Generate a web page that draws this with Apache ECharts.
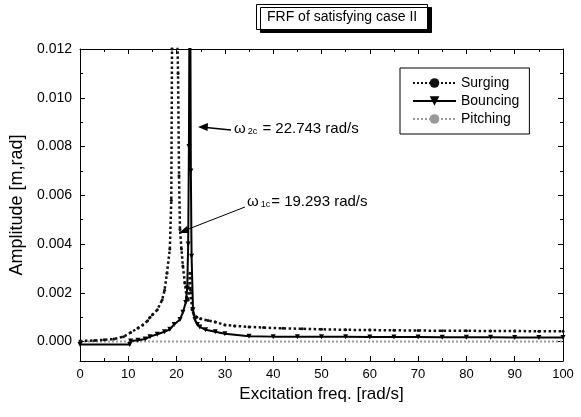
<!DOCTYPE html>
<html><head><meta charset="utf-8">
<script src="https://cdn.jsdelivr.net/npm/echarts@6/dist/echarts.min.js"></script>
<style>html,body{margin:0;padding:0;background:#fff}#c{width:581px;height:417px}</style>
</head><body><div id="c"></div>
<script>
// ---- data ----
const surgingFreq = [0, 3, 5, 7, 9, 10.5, 12, 13, 14, 14.5, 15, 16, 17, 17.5, 18, 18.6, 18.9, 19.05, 19.2, 19.3, 19.5, 19.8, 20.1, 20.3, 20.5, 20.7, 21.0, 21.3, 21.7, 22.1, 22.4, 22.6, 22.75, 22.9, 23.2, 23.6, 24.2, 25, 26.5, 28, 30, 32, 35, 38, 42, 46, 50, 55, 60, 65, 70, 75, 80, 85, 90, 95, 100];
const surgingAmp  = [0.00002, 0.00004, 0.00007, 0.0001, 0.0002, 0.00037, 0.00055, 0.00068, 0.00085, 0.001, 0.0011, 0.0013, 0.0017, 0.0021, 0.0028, 0.0038, 0.0058, 0.012, 0.016, 0.018, 0.017, 0.015, 0.013, 0.011, 0.0068, 0.0046, 0.0038, 0.0031, 0.0024, 0.0018, 0.0017, 0.0022, 0.0028, 0.0021, 0.0013, 0.0011, 0.001, 0.00093, 0.00086, 0.0008, 0.00068, 0.00064, 0.0006, 0.00057, 0.00054, 0.00052, 0.0005, 0.00048, 0.00047, 0.00046, 0.00045, 0.00044, 0.00044, 0.00043, 0.00043, 0.00042, 0.00042];
const bouncingFreq = [0, 10.3, 10.5, 12, 13.5, 14.5, 16, 17.5, 18.6, 19.5, 20.7, 21.3, 21.9, 22.2, 22.4, 22.55, 22.65, 22.74, 22.85, 22.95, 23.1, 23.4, 23.8, 24.3, 24.8, 26, 28, 30, 35, 40, 45, 50, 55, 60, 65, 70, 75, 80, 85, 90, 95, 100];
const bouncingAmp  = [-0.00012, -0.00012, 0.00002, 0.00005, 0.0001, 0.0002, 0.0003, 0.0004, 0.0005, 0.0007, 0.0009, 0.0012, 0.0016, 0.0022, 0.004, 0.008, 0.013, 0.018, 0.013, 0.007, 0.0035, 0.0013, 0.0009, 0.0007, 0.0006, 0.00048, 0.0004, 0.00032, 0.00022, 0.0002, 0.0002, 0.00019, 0.00019, 0.00018, 0.00018, 0.00018, 0.00017, 0.00017, 0.00017, 0.00016, 0.00016, 0.00016];
const pitchingFreq = [0, 10, 20, 30, 40, 50, 60, 70, 80, 90, 100];
const pitchingAmp  = [0, 0, 0, 0, 0, 0, 0, 0, 0, 0, 0];
const yMajorTicks = [0, 0.002, 0.004, 0.006, 0.008, 0.010, 0.012];
const yMinorTicks = [0.001, 0.003, 0.005, 0.007, 0.009, 0.011];
const seriesNames = ['Surging', 'Bouncing', 'Pitching'];
const titleText = 'FRF of satisfying case II';
const xName = 'Excitation freq. [rad/s]';
const yName = 'Amplitude [m,rad]';
const ann2 = '22.743 rad/s';
const ann1 = '19.293 rad/s';

const zip = (a, b) => a.map((v, i) => [v, b[i]]);
const FONT = 'Liberation Sans, Arial, sans-serif';
const YMIN = -0.0008, YMAX = 0.012;

function yAx(pos, vals, len, showLabel, showLine) {
  return {
    type: 'value', position: pos, min: YMIN, max: YMAX,
    splitLine: {show: false},
    axisLine: {show: showLine, onZero: false, lineStyle: {color: '#000', width: 1}},
    axisTick: {show: true, inside: true, length: len, customValues: vals, lineStyle: {color: '#000'}},
    axisLabel: {show: showLabel, customValues: vals, margin: 8, color: '#000', fontFamily: FONT, fontSize: 14,
      formatter: v => Number(v).toFixed(3)},
    name: showLabel ? yName : '', nameLocation: 'middle', nameGap: 47,
    nameTextStyle: {fontFamily: FONT, fontSize: 18, color: '#000'}
  };
}
function xAx(pos, showLabel) {
  return {
    type: 'value', position: pos, min: 0, max: 100, interval: 10,
    splitLine: {show: false},
    axisLine: {show: true, onZero: false, lineStyle: {color: '#000', width: 1}},
    axisTick: {show: true, inside: true, length: 5, lineStyle: {color: '#000'}},
    minorTick: {show: true, splitNumber: 2, length: 3, lineStyle: {color: '#000'}},
    axisLabel: {show: showLabel, margin: 7, color: '#000', fontFamily: FONT, fontSize: 13},
    name: showLabel ? xName : '', nameLocation: 'middle', nameGap: 24,
    nameTextStyle: {fontFamily: FONT, fontSize: 17, color: '#000', verticalAlign: 'top'}
  };
}
const rich = {
  w: {fontFamily: FONT, fontSize: 15, fill: '#000'},
  s: {fontFamily: FONT, fontSize: 9, fill: '#000', verticalAlign: 'bottom', padding: [7, 1, 0, 2]},
  t: {fontFamily: FONT, fontSize: 15, fill: '#000'}
};

const chart = echarts.init(document.getElementById('c'), null, {renderer: 'canvas'});
chart.setOption({
  backgroundColor: '#fff',
  animation: false,
  title: {
    text: titleText, left: 256, top: 4,
    textStyle: {fontFamily: FONT, fontSize: 14, fontWeight: 'normal', color: '#000'},
    padding: [6, 11, 6, 11],
    backgroundColor: '#fff', borderColor: '#000', borderWidth: 1,
    shadowColor: '#000', shadowOffsetX: 4, shadowOffsetY: 3, shadowBlur: 0
  },
  legend: {
    orient: 'vertical', left: 400, top: 68, padding: [8, 10, 8, 12], itemGap: 4,
    itemWidth: 43, itemHeight: 12,
    borderColor: '#000', borderWidth: 1, backgroundColor: '#fff',
    textStyle: {fontFamily: FONT, fontSize: 14, color: '#000'},
    data: seriesNames
  },
  grid: {left: 80, right: 18, top: 49, bottom: 56, show: false},
  xAxis: [xAx('bottom', true), xAx('top', false)],
  yAxis: [yAx('left', yMajorTicks, 5, true, true), yAx('left', yMinorTicks, 3, false, false),
          yAx('right', yMajorTicks, 5, false, true), yAx('right', yMinorTicks, 3, false, false)],
  series: [
    {name: seriesNames[0], type: 'line', data: zip(surgingFreq, surgingAmp), xAxisIndex: 0, yAxisIndex: 0,
     symbol: 'circle', symbolSize: 3, showSymbol: true, z: 3,
     itemStyle: {color: '#111'}, lineStyle: {color: '#111', width: 2.5, type: 'dotted'}},
    {name: seriesNames[1], type: 'line', data: zip(bouncingFreq, bouncingAmp), xAxisIndex: 0, yAxisIndex: 0,
     symbol: 'triangle', symbolRotate: 180, symbolSize: 5, showSymbol: true, z: 4,
     itemStyle: {color: '#000'}, lineStyle: {color: '#000', width: 2}},
    {name: seriesNames[2], type: 'line', data: zip(pitchingFreq, pitchingAmp), xAxisIndex: 0, yAxisIndex: 0,
     symbol: 'none', z: 2,
     itemStyle: {color: '#999'}, lineStyle: {color: '#999', width: 2, type: 'dotted'}}
  ],
  graphic: [
    {type: 'line', shape: {x1: 231, y1: 130, x2: 206, y2: 127.5}, style: {stroke: '#000', lineWidth: 1.5}},
    {type: 'polygon', shape: {points: [[198, 127], [208, 123], [207.5, 131]]}, style: {fill: '#000'}},
    {type: 'text', left: 234, top: 121, style: {text: '{w|ω}{s|2c}{t| = ' + ann2 + '}', rich: rich}},
    {type: 'line', shape: {x1: 245, y1: 207, x2: 186, y2: 230}, style: {stroke: '#000', lineWidth: 1}},
    {type: 'polygon', shape: {points: [[179, 233], [187, 226], [189, 233]]}, style: {fill: '#000'}},
    {type: 'text', left: 247, top: 194, style: {text: '{w|ω}{s|1c}{t|= ' + ann1 + '}', rich: rich}}
  ]
});
</script></body></html>
